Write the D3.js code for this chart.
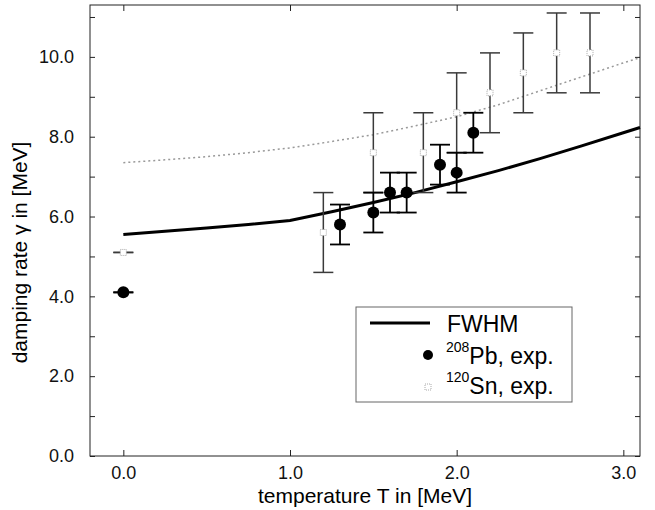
<!DOCTYPE html>
<meta charset="utf-8">
<style>
body { margin: 0; background: #fff; }
text { font-family: "Liberation Sans", Arial, sans-serif; }
.frame { fill: none; stroke: #222; stroke-width: 1px; }
.axis path { display: none; }
.axis line { stroke: #222; }
</style>
<body>
<script src="https://d3js.org/d3.v7.min.js"></script>
<script>

// theory curves
var curveT    = [0, 0.25, 0.5, 0.75, 1.0, 1.25, 1.5, 1.75, 2.0, 2.25, 2.5, 2.75, 3.0, 3.1];
var fwhmVal   = [5.55, 5.63, 5.71, 5.8, 5.9, 6.12, 6.35, 6.6, 6.87, 7.15, 7.45, 7.77, 8.1, 8.23];
var snLineVal = [7.35, 7.42, 7.5, 7.6, 7.72, 7.88, 8.05, 8.27, 8.5, 8.8, 9.15, 9.5, 9.85, 9.98];

// 208Pb experiment
var pbT   = [0.0, 1.3, 1.5, 1.6, 1.7, 1.9, 2.0, 2.1];
var pbVal = [4.1, 5.8, 6.1, 6.6, 6.6, 7.3, 7.1, 8.1];
var pbErr = [0, 0.5, 0.5, 0.5, 0.5, 0.5, 0.5, 0.5];

// 120Sn experiment
var snT   = [0.0, 1.2, 1.5, 1.8, 2.0, 2.2, 2.4, 2.6, 2.8];
var snVal = [5.1, 5.6, 7.6, 7.6, 8.6, 9.1, 9.6, 10.1, 10.1];
var snErr = [0, 1, 1, 1, 1, 1, 1, 1, 1];

var xTicks = [0, 1, 2, 3];
var yTicks = [0, 1, 2, 3, 4, 5, 6, 7, 8, 9, 10, 11];
var yLabelled = [0, 2, 4, 6, 8, 10];

var margin = {top: 5, right: 15, bottom: 54, left: 90},
    width = 655 - margin.left - margin.right,
    height = 510 - margin.top - margin.bottom;

var x = d3.scaleLinear().domain([-0.2, 3.1]).range([0, width]);
var y = d3.scaleLinear().domain([0, 11.3]).range([height, 0]);

var svg = d3.select("body").append("svg")
    .attr("width", 655)
    .attr("height", 510)
  .append("g")
    .attr("transform", "translate(" + margin.left + "," + margin.top + ")");

var fmt = d3.format(".1f");

// axes, ticks pointing inward
svg.append("g")
    .attr("class", "axis")
    .attr("transform", "translate(0," + height + ")")
    .call(d3.axisBottom(x).tickValues(xTicks).tickSize(-6).tickPadding(10).tickFormat(fmt))
    .selectAll("text").style("font-size", "18px").attr("fill", "#111");

svg.append("g")
    .attr("class", "axis")
    .call(d3.axisTop(x).tickValues(xTicks).tickSize(-6).tickFormat(""));

svg.append("g")
    .attr("class", "axis")
    .call(d3.axisLeft(y).tickValues(yTicks).tickSize(-5).tickPadding(16)
      .tickFormat(function(d) { return yLabelled.indexOf(d) >= 0 ? fmt(d) : ""; }))
    .selectAll("text").style("font-size", "18px").attr("fill", "#111");

svg.append("g")
    .attr("class", "axis")
    .attr("transform", "translate(" + width + ",0)")
    .call(d3.axisRight(y).tickValues(yTicks).tickSize(-5).tickFormat(""));

svg.append("rect")
    .attr("class", "frame")
    .attr("width", width)
    .attr("height", height);

// axis titles
svg.append("text")
    .attr("x", x(1.45))
    .attr("y", height + 47)
    .attr("text-anchor", "middle")
    .style("font-size", "21px")
    .text("temperature T in [MeV]");

svg.append("text")
    .attr("transform", "translate(" + (-63) + "," + y(5.1) + ") rotate(-90)")
    .attr("text-anchor", "middle")
    .style("font-size", "21px")
    .text("damping rate \u03b3 in [MeV]");

var line = d3.line()
    .x(function(d) { return x(d[0]); })
    .y(function(d) { return y(d[1]); });

// Sn dotted curve
svg.append("path")
    .datum(d3.zip(curveT, snLineVal))
    .attr("d", line)
    .attr("fill", "none")
    .attr("stroke", "#999")
    .attr("stroke-width", 1.5)
    .attr("stroke-dasharray", "2,3");

// FWHM solid curve
svg.append("path")
    .datum(d3.zip(curveT, fwhmVal))
    .attr("d", line)
    .attr("fill", "none")
    .attr("stroke", "#000")
    .attr("stroke-width", 3);

function errorBars(data, colour, sw) {
  var g = svg.append("g").attr("stroke", colour).attr("stroke-width", sw);
  g.selectAll(".v").data(data).enter().append("line")
      .attr("x1", function(d) { return x(d[0]); })
      .attr("x2", function(d) { return x(d[0]); })
      .attr("y1", function(d) { return y(d[1] - d[2]); })
      .attr("y2", function(d) { return y(d[1] + d[2]); });
  [-1, 1].forEach(function(s) {
    g.selectAll(".c" + s).data(data).enter().append("line")
        .attr("x1", function(d) { return x(d[0]) - 10; })
        .attr("x2", function(d) { return x(d[0]) + 10; })
        .attr("y1", function(d) { return y(d[1] + s * d[2]); })
        .attr("y2", function(d) { return y(d[1] + s * d[2]); });
  });
}

var snData = d3.zip(snT, snVal, snErr);
var pbData = d3.zip(pbT, pbVal, pbErr);

errorBars(snData, "#3a3a3a", 1.5);

// Sn markers: faint dotted squares
svg.selectAll(".sn").data(snData).enter().append("rect")
    .attr("x", function(d) { return x(d[0]) - 3; })
    .attr("y", function(d) { return y(d[1]) - 3; })
    .attr("width", 6)
    .attr("height", 6)
    .attr("fill", "#fff")
    .attr("stroke", "#aaa")
    .attr("stroke-width", 1)
    .attr("stroke-dasharray", "1,1");

errorBars(pbData, "#000", 1.8);

svg.selectAll(".pb").data(pbData).enter().append("circle")
    .attr("cx", function(d) { return x(d[0]); })
    .attr("cy", function(d) { return y(d[1]); })
    .attr("r", 6)
    .attr("fill", "#000");

// legend
var lg = svg.append("g").attr("transform", "translate(" + (356 - margin.left) + "," + (307 - margin.top) + ")");
lg.append("rect")
    .attr("width", 216)
    .attr("height", 95)
    .attr("fill", "#fff")
    .attr("stroke", "#666")
    .attr("stroke-width", 1);
lg.append("line")
    .attr("x1", 14).attr("x2", 74)
    .attr("y1", 16).attr("y2", 16)
    .attr("stroke", "#000").attr("stroke-width", 3);
lg.append("text").attr("x", 91).attr("y", 25).style("font-size", "23px").text("FWHM");
lg.append("circle").attr("cx", 72).attr("cy", 48).attr("r", 5).attr("fill", "#000");
var t1 = lg.append("text").attr("x", 90).attr("y", 57).style("font-size", "23px");
t1.append("tspan").attr("dy", -12).style("font-size", "14px").text("208");
t1.append("tspan").attr("dy", 12).text("Pb, exp.");
lg.append("rect").attr("x", 69).attr("y", 77).attr("width", 6).attr("height", 6)
    .attr("fill", "#fff").attr("stroke", "#aaa").attr("stroke-dasharray", "1,1");
var t2 = lg.append("text").attr("x", 90).attr("y", 87).style("font-size", "23px");
t2.append("tspan").attr("dy", -12).style("font-size", "14px").text("120");
t2.append("tspan").attr("dy", 12).text("Sn, exp.");

</script>
</body>
